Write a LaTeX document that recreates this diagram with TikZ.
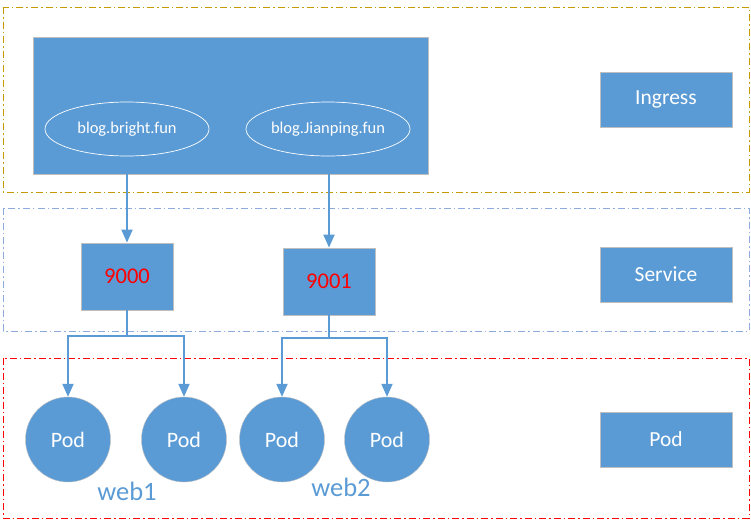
\documentclass[tikz,border=0pt]{standalone}
\usepackage{fontspec}
\setmainfont{Carlito}
\usetikzlibrary{arrows.meta,shapes.geometric,positioning}
\definecolor{boxblue}{HTML}{5B9BD5}
\definecolor{boxedge}{HTML}{BFBFBF}
\definecolor{ingcol}{HTML}{C49A00}
\definecolor{svccol}{HTML}{8FAADC}
\definecolor{podcol}{HTML}{FF0000}
\tikzset{
  layer/.style={draw, line width=0.9pt, dash pattern=on 7pt off 3pt on 1.5pt off 3pt},
  bluebox/.style={draw=boxedge, line width=0.8pt, fill=boxblue, inner sep=0pt, text=white},
  hostell/.style={ellipse, draw=white, line width=0.7pt, minimum width=164pt, minimum height=54pt, inner sep=0pt, text=white, font=\fontsize{16.5}{19}\selectfont},
  podnode/.style={circle, fill=boxblue, draw=boxedge, line width=0.4pt, minimum size=85pt, inner sep=0pt, text=white, font=\fontsize{22}{24}\selectfont},
  portbox/.style={bluebox, minimum width=92pt, minimum height=67pt, text=red, font=\fontsize{22.5}{25}\selectfont},
  labelbox/.style={bluebox, minimum width=132pt, minimum height=55pt, font=\fontsize{21.5}{24}\selectfont},
  conn/.style={draw=boxblue, line width=2pt},
  arr/.style={conn, -{Triangle[width=11pt,length=13pt]}},
  webtext/.style={text=boxblue, font=\fontsize{26.5}{29}\selectfont}
}
\begin{document}
\begin{tikzpicture}[x=1pt,y=-1pt]
\useasboundingbox (0,0) rectangle (751,525);
% layers
\draw[layer, ingcol] (3,7) rectangle (749,192);
\draw[layer, svccol] (3,208) rectangle (749,331);
\draw[layer, podcol] (3,358) rectangle (749,518);
% ingress block
\node[bluebox, minimum width=395pt, minimum height=137pt] (ing) at (230.5,105.5) {};
\node[hostell] (h1) at (127,129) {blog.bright.fun};
\node[hostell] (h2) at (328,129) {blog.Jianping.fun};
% services
\node[portbox] (s1) at (127,276.5) {9000};
\node[portbox] (s2) at (329,281.5) {9001};
% pods
\node[podnode] (p1) at (68,439.5) {Pod};
\node[podnode] (p2) at (184,439.5) {Pod};
\node[podnode] (p3) at (282,439.5) {Pod};
\node[podnode] (p4) at (387,439.5) {Pod};
\node[webtext] (w1) at (127,491) {web1};
\node[webtext] (w2) at (341,487) {web2};
% legend boxes
\node[labelbox] (lI) at (666,99.5) {Ingress};
\node[labelbox] (lS) at (666,274.5) {Service};
\node[labelbox] (lP) at (666,439.5) {Pod};
% connectors
\coordinate (a1) at (127,174);
\coordinate (a2) at (329,174);
\draw[arr] (a1) -- (s1.north);
\draw[arr] (a2) -- (s2.north);
\coordinate (j1) at (127,336);
\coordinate (j2) at (329,338);
\draw[conn] (s1.south) -- (j1);
\draw[conn] (s2.south) -- (j2);
\draw[arr] (j1) -| (p1.north);
\draw[arr] (j1) -| (p2.north);
\draw[arr] (j2) -| (p3.north);
\draw[arr] (j2) -| (p4.north);
\end{tikzpicture}
\end{document}
